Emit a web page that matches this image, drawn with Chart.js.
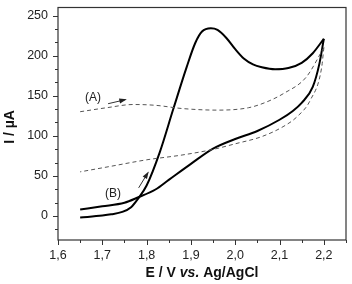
<!DOCTYPE html>
<html>
<head>
<meta charset="utf-8">
<script src="https://cdn.jsdelivr.net/npm/chart.js@4.4.1/dist/chart.umd.min.js"></script>
<style>
  html, body { margin: 0; padding: 0; background: #fff; }
</style>
</head>
<body>
<canvas id="cv" width="352" height="284"></canvas>
<script>
// potential (V) and current (uA)
const forwardE = [1.65, 1.70, 1.72, 1.745, 1.765, 1.78, 1.80, 1.83, 1.86, 1.89, 1.91, 1.925, 1.945, 1.96, 1.98, 2.00, 2.02, 2.04, 2.06, 2.09, 2.12, 2.15, 2.175, 2.20];
const forwardI = [-2, 0.5, 2, 5, 11, 21, 38, 80, 133, 185, 216, 230, 234, 232, 222, 208, 196, 189, 185.5, 183, 184.5, 191, 203, 221];
const backE = [2.20, 2.19, 2.175, 2.15, 2.13, 2.10, 2.05, 2.00, 1.95, 1.90, 1.85, 1.82, 1.78, 1.75, 1.70, 1.65];
const backI = [221, 190, 161, 141, 131, 120, 106, 96, 84, 65, 45, 33, 23, 16.5, 12, 8];
const blankFwdE = [1.65, 1.71, 1.77, 1.82, 1.88, 1.96, 2.03, 2.07, 2.11, 2.16, 2.20];
const blankFwdI = [130, 135, 139, 138, 134, 132, 135, 142, 153, 173, 210];
const blankBackE = [2.20, 2.195, 2.17, 2.14, 2.11, 2.06, 2.00, 1.95, 1.88, 1.80, 1.72, 1.65];
const blankBackI = [210, 185, 145, 124, 112, 99, 90, 83, 76, 70, 62, 55];
const xTicks = { min: 1.6, max: 2.25, step: 0.1 };
const yTicks = { min: -30, max: 260, step: 50 };

const pts = (es, is) => es.map((e, i) => ({ x: e, y: is[i] }));
const FONT = '"Liberation Sans", Arial, sans-serif';

function arrow(ctx, x0, y0, x1, y1) {
  const ang = Math.atan2(y1 - y0, x1 - x0);
  ctx.beginPath();
  ctx.moveTo(x0, y0);
  ctx.lineTo(x1, y1);
  ctx.stroke();
  ctx.beginPath();
  ctx.moveTo(x1 + 1.5 * Math.cos(ang), y1 + 1.5 * Math.sin(ang));
  ctx.lineTo(x1 - 6 * Math.cos(ang) + 2.5 * Math.sin(ang), y1 - 6 * Math.sin(ang) - 2.5 * Math.cos(ang));
  ctx.lineTo(x1 - 6 * Math.cos(ang) - 2.5 * Math.sin(ang), y1 - 6 * Math.sin(ang) + 2.5 * Math.cos(ang));
  ctx.closePath();
  ctx.fill();
}

const decorations = {
  id: 'decorations',
  afterDraw(chart) {
    const { ctx, chartArea: a, scales: { x, y } } = chart;
    ctx.save();
    ctx.strokeStyle = '#333';
    ctx.fillStyle = '#222';
    ctx.lineWidth = 1.2;
    ctx.strokeRect(a.left, a.top, a.right - a.left, a.bottom - a.top);

    // outward ticks, major and minor
    ctx.lineWidth = 1;
    ctx.beginPath();
    for (let k = 0; ; k++) {
      const v = xTicks.min + k * 0.05;
      if (v > xTicks.max + 1e-9) break;
      const px = Math.round(x.getPixelForValue(v)) + 0.5;
      ctx.moveTo(px, a.bottom);
      ctx.lineTo(px, a.bottom + (k % 2 === 0 ? 5 : 3));
    }
    for (let k = -2; k <= 16; k++) {
      const v = k * 50 / 3;
      if (v < yTicks.min || v > yTicks.max) continue;
      const py = Math.round(y.getPixelForValue(v)) + 0.5;
      ctx.moveTo(a.left, py);
      ctx.lineTo(a.left - (k % 3 === 0 ? 5 : 3), py);
    }
    ctx.stroke();

    // annotations
    ctx.font = '12px ' + FONT;
    ctx.textAlign = 'center';
    ctx.textBaseline = 'middle';
    ctx.fillText('(A)', x.getPixelForValue(1.679), y.getPixelForValue(148));
    ctx.fillText('(B)', x.getPixelForValue(1.724), y.getPixelForValue(28));
    ctx.lineWidth = 1;
    arrow(ctx, x.getPixelForValue(1.713), y.getPixelForValue(140), x.getPixelForValue(1.752), y.getPixelForValue(145));
    arrow(ctx, x.getPixelForValue(1.782), y.getPixelForValue(35), x.getPixelForValue(1.803), y.getPixelForValue(54));

    // axis titles
    ctx.fillStyle = '#111';
    const parts = [['E / V ', 'bold 14px ' + FONT], ['vs.', 'italic bold 14px ' + FONT], [' Ag/AgCl', 'bold 14px ' + FONT]];
    let total = 0;
    parts.forEach(p => { ctx.font = p[1]; total += ctx.measureText(p[0]).width; });
    let cx = (a.left + a.right) / 2 - total / 2;
    ctx.textAlign = 'left';
    parts.forEach(p => { ctx.font = p[1]; ctx.fillText(p[0], cx, 273); cx += ctx.measureText(p[0]).width; });

    ctx.save();
    ctx.translate(10, 127);
    ctx.rotate(-Math.PI / 2);
    ctx.textAlign = 'center';
    ctx.font = 'bold 14px ' + FONT;
    ctx.fillText('I / \u00b5A', 0, 0);
    ctx.restore();
    ctx.restore();
  }
};

new Chart(document.getElementById('cv'), {
  type: 'scatter',
  data: {
    datasets: [
      { data: pts(blankFwdE, blankFwdI), borderColor: '#555', borderWidth: 1, borderDash: [4, 3] },
      { data: pts(blankBackE, blankBackI), borderColor: '#555', borderWidth: 1, borderDash: [4, 3] },
      { data: pts(forwardE, forwardI), borderColor: '#000', borderWidth: 2 },
      { data: pts(backE, backI), borderColor: '#000', borderWidth: 2 },
    ].map(d => Object.assign(d, { showLine: true, pointRadius: 0, fill: false, cubicInterpolationMode: 'monotone' })),
  },
  options: {
    responsive: false,
    animation: false,
    layout: { padding: { top: 6, right: 6, left: 0, bottom: 0 } },
    plugins: { legend: { display: false }, tooltip: { enabled: false } },
    scales: {
      x: {
        type: 'linear',
        min: xTicks.min,
        max: xTicks.max,
        grid: { display: false, tickLength: 8 },
        border: { display: false },
        ticks: {
          stepSize: xTicks.step,
          includeBounds: false,
          padding: 0,
          color: '#222',
          font: { family: FONT, size: 12.5 },
          callback: v => v.toFixed(1).replace('.', ','),
        },
        afterFit: s => { s.height = 44; },
      },
      y: {
        min: yTicks.min,
        max: yTicks.max,
        grid: { display: false, tickLength: 10 },
        border: { display: false },
        ticks: {
          stepSize: yTicks.step,
          includeBounds: false,
          padding: 0,
          color: '#222',
          font: { family: FONT, size: 12.5 },
        },
        afterFit: s => { s.width = 58; },
      },
    },
  },
  plugins: [decorations],
});
</script>
</body>
</html>
